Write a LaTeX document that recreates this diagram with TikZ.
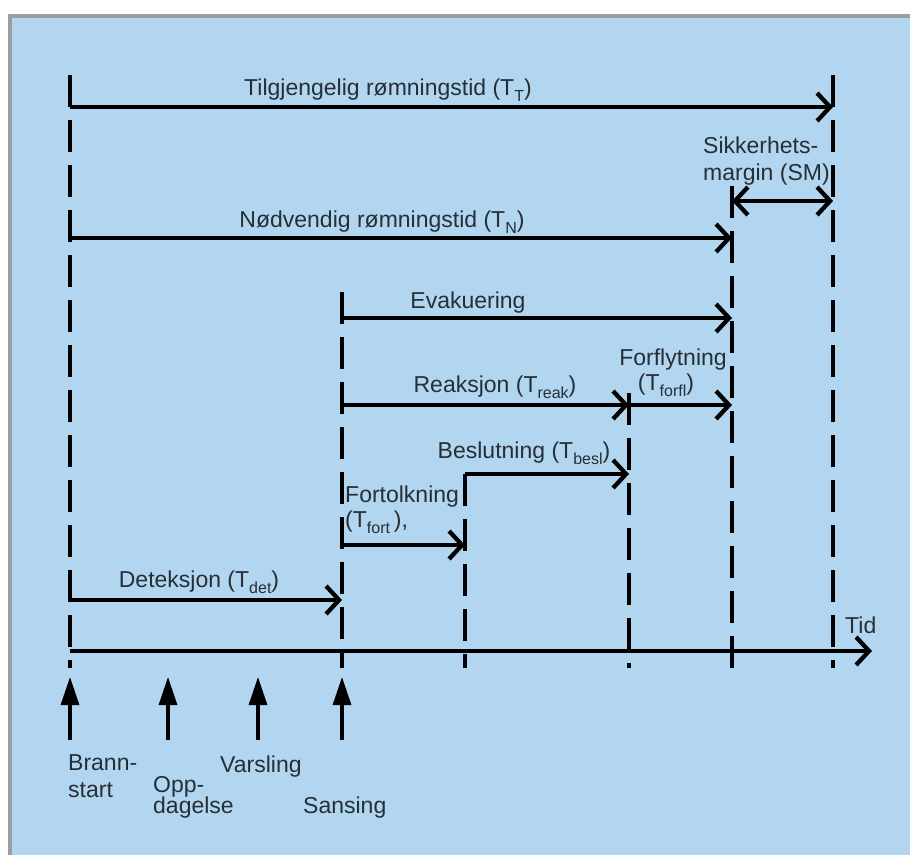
\documentclass[tikz,border=0pt]{standalone}
\usepackage{fontspec}
\setmainfont{Liberation Sans}
\usetikzlibrary{arrows.meta}
\definecolor{skyback}{RGB}{179,214,240}
\definecolor{frameline}{RGB}{155,158,160}
\definecolor{inkgrey}{RGB}{38,46,54}
\newcommand{\tsub}[1]{\raisebox{-6pt}{\fontsize{16}{16}\selectfont #1}}
\tikzset{
  timearrow/.style={-{Straight Barb[length=13pt,width=28pt]}, line width=4.3pt},
  bothways/.style={{Straight Barb[length=13pt,width=28pt]}-{Straight Barb[length=13pt,width=28pt]}, line width=4.3pt},
  guide/.style={line width=3.2pt, dash pattern=on 32pt off 13pt},
  eventarrow/.style={-{Triangle[length=28pt,width=18pt]}, line width=3.2pt},
  phase/.style={anchor=base, text=inkgrey, inner sep=0pt, font=\fontsize{23}{27}\selectfont},
  event/.style={phase, anchor=base west}
}

\begin{document}
\begin{tikzpicture}[x=1pt, y=-1pt]
  \useasboundingbox (0,0) rectangle (910,855);
  \fill[white] (0,0) rectangle (910,855);
  \fill[skyback] (8,14) rectangle (910,855);
  \draw[frameline, line width=3.5pt] (10,855) -- (10,16) -- (910,16);

  % dashed guides at the time points
  \foreach \n/\x/\top in {brann/70/75, sans/342/292, fort/465/474, besl/629/393, forfl/732/186, marg/833/75} {
    \coordinate (\n-top) at (\x,\top);
    \coordinate (\n-bot) at (\x,668);
    \draw[guide] (\n-top) -- (\n-bot);
  }

  % time spans
  \coordinate (tt-s) at (70,107);  \coordinate (tt-e) at (833,107);
  \coordinate (sm-s) at (732,201); \coordinate (sm-e) at (833,201);
  \coordinate (tn-s) at (70,238);  \coordinate (tn-e) at (732,238);
  \coordinate (ev-s) at (342,318); \coordinate (ev-e) at (732,318);
  \coordinate (re-s) at (342,405); \coordinate (re-e) at (629,405);
  \coordinate (ff-e) at (732,405);
  \coordinate (be-s) at (465,474); \coordinate (be-e) at (629,474);
  \coordinate (fo-s) at (342,545); \coordinate (fo-e) at (465,545);
  \coordinate (de-s) at (70,600);  \coordinate (de-e) at (342,600);
  \coordinate (ax-s) at (70,651);  \coordinate (ax-e) at (872,651);

  \draw[timearrow] (tt-s) -- (tt-e);
  \draw[bothways] (sm-s) -- (sm-e);
  \draw[timearrow] (tn-s) -- (tn-e);
  \draw[timearrow] (ev-s) -- (ev-e);
  \draw[timearrow] (re-s) -- (re-e);
  \draw[timearrow] (re-e) -- (ff-e);
  \draw[timearrow] (be-s) -- (be-e);
  \draw[timearrow] (fo-s) -- (fo-e);
  \draw[timearrow] (de-s) -- (de-e);
  \draw[timearrow] (ax-s) -- (ax-e);

  \node[phase] (tt-lbl) at (388,95) {Tilgjengelig rømningstid (T\tsub{T})};
  \node[event] (sm-lbl1) at (703,153) {Sikkerhets-};
  \node[event] (sm-lbl2) at (703,180) {margin (SM)};
  \node[phase] (tn-lbl) at (382,227) {Nødvendig rømningstid (T\tsub{N})};
  \node[phase] (ev-lbl) at (468,308) {Evakuering};
  \node[phase] (re-lbl) at (495,392) {Reaksjon (T\tsub{reak})};
  \node[phase] (ff-lbl1) at (673,365) {Forflytning};
  \node[phase] (ff-lbl2) at (666,390) {(T\tsub{forfl})};
  \node[phase] (be-lbl) at (524,458) {Beslutning (T\tsub{besl})};
  \node[event] (fo-lbl1) at (345,502) {Fortolkning};
  \node[event] (fo-lbl2) at (345,527) {(T\tsub{fort}\,),};
  \node[phase] (de-lbl) at (199,587) {Deteksjon (T\tsub{det})};
  \node[event] (ax-lbl) at (845,633) {Tid};

  % events below the axis
  \foreach \n/\x in {brann/70, opp/168, vars/258, sansing/342} {
    \coordinate (\n-tail) at (\x,740);
    \coordinate (\n-tip) at (\x,677);
    \draw[eventarrow] (\n-tail) -- (\n-tip);
  }
  \node[event] (brann-lbl1) at (68,770) {Brann-};
  \node[event] (brann-lbl2) at (68,797) {start};
  \node[event] (opp-lbl1) at (153,792) {Opp-};
  \node[event] (opp-lbl2) at (153,813) {dagelse};
  \node[event] (vars-lbl) at (220,772) {Varsling};
  \node[event] (sansing-lbl) at (303,813) {Sansing};
\end{tikzpicture}
\end{document}
